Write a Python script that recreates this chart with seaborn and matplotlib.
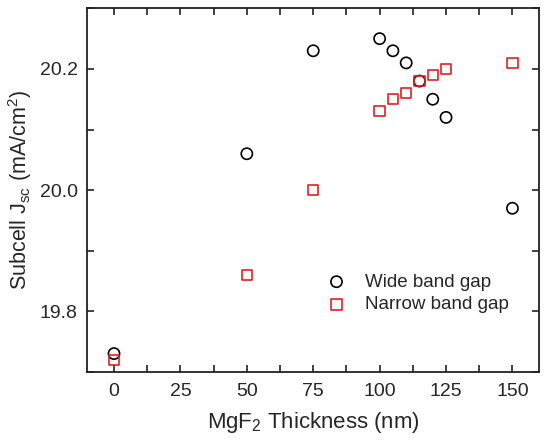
import numpy as np
import pandas as pd
import matplotlib
matplotlib.use("Agg")
import matplotlib.pyplot as plt
from matplotlib.ticker import MultipleLocator
import seaborn as sns

thickness = [0, 50, 75, 100, 105, 110, 115, 120, 125, 150]
wide_gap = [19.73, 20.06, 20.23, 20.25, 20.23, 20.21, 20.18, 20.15, 20.12, 19.97]
narrow_gap = [19.72, 19.86, 20.00, 20.13, 20.15, 20.16, 20.18, 20.19, 20.20, 20.21]

sns.set_style("ticks")
plt.rcParams['font.family'] = ['Liberation Sans', 'DejaVu Sans']
plt.rcParams['mathtext.fontset'] = 'custom'
plt.rcParams['mathtext.rm'] = 'Liberation Sans'
plt.rcParams['mathtext.it'] = 'Liberation Sans:italic'

fig = plt.figure(figsize=(5.5, 4.41), dpi=100)
ax = fig.add_axes([0.159, 0.157, 0.821, 0.824])

df_w = pd.DataFrame({"x": thickness, "y": wide_gap})
df_n = pd.DataFrame({"x": thickness, "y": narrow_gap})
sns.scatterplot(data=df_w, x="x", y="y", ax=ax, marker="o", s=65,
                facecolor="none", edgecolor="black", linewidth=1.2,
                label="Wide band gap")
sns.scatterplot(data=df_n, x="x", y="y", ax=ax, marker="s", s=55,
                facecolor="none", edgecolor="#e0201f", linewidth=1.2,
                label="Narrow band gap")

ax.set_xlim(-10, 160)
ax.set_ylim(19.70, 20.30)
ax.set_xticks([0, 25, 50, 75, 100, 125, 150])
ax.set_yticks([19.8, 20.0, 20.2])
ax.xaxis.set_minor_locator(MultipleLocator(12.5))
ax.yaxis.set_minor_locator(MultipleLocator(0.1))
ax.tick_params(which="both", direction="in", top=True, right=True,
               width=1.2, labelsize=14, color="#222222", length=5)
ax.tick_params(axis="x", pad=8)
ax.tick_params(axis="y", pad=7)
for sp in ax.spines.values():
    sp.set_linewidth(1.3)
    sp.set_color("#222222")

ax.set_xlabel("MgF$_2$ Thickness (nm)", fontsize=16, labelpad=7)
ax.set_ylabel("Subcell J$_{\\rm sc}$ (mA/cm$^2$)", fontsize=15.5, labelpad=4)

leg = ax.legend(loc="lower left", bbox_to_anchor=(0.51, 0.14), frameon=False,
                fontsize=13.5, handletextpad=0.9, labelspacing=0.3,
                borderaxespad=0, handlelength=1.2)

fig.savefig("out.png", dpi=100)
